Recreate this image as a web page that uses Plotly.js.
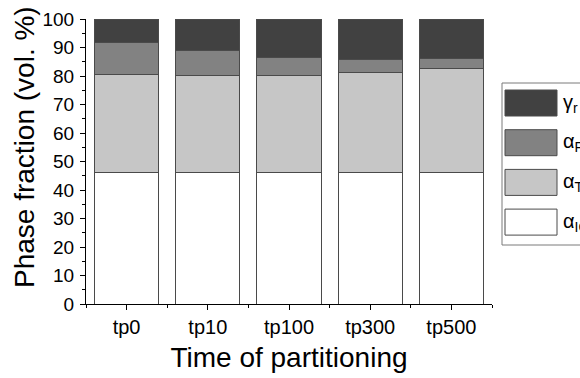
<!DOCTYPE html>
<html>
<head>
<meta charset="utf-8">
<script src="https://cdn.plot.ly/plotly-3.0.1.min.js"></script>
<style>
  html, body { margin: 0; padding: 0; background: #ffffff; }
  #chart { width: 580px; height: 378px; }
</style>
</head>
<body>
<div id="chart"></div>
<script>
// Partitioning time steps
const categories = ['tp0', 'tp10', 'tp100', 'tp300', 'tp500'];

// Phase fractions (vol. %), stacked bottom to top
const alphaIC = [46.3, 46.2, 46.2, 46.2, 46.2];
const alphaTM = [34.2, 34.0, 34.0, 35.1, 36.6];
const alphaFM = [11.2, 8.7, 6.3, 4.4, 3.3];
const gammaR  = [8.3, 11.1, 13.5, 14.3, 13.9];

const seriesNames  = ['α<sub>IC</sub>', 'α<sub>TM</sub>', 'α<sub>FM</sub>', 'γ<sub>r</sub>'];
const seriesColors = ['#ffffff', '#c6c6c6', '#828282', '#414141'];
const seriesValues = [alphaIC, alphaTM, alphaFM, gammaR];

const W = 580, H = 378;
const M = { l: 86, r: 88, t: 19, b: 74 };
const FONT = '"Liberation Sans", Arial, sans-serif';

// pixel -> paper coordinate helpers for the hand-built legend and y title
const px = x => (x - M.l) / (W - M.l - M.r);
const py = y => (H - M.b - y) / (H - M.t - M.b);

const idx = categories.map((_, i) => i);

const traces = seriesValues.map((vals, k) => ({
  type: 'bar',
  x: idx,
  y: vals,
  name: seriesNames[k],
  width: 0.79,
  marker: { color: seriesColors[k], line: { color: '#4a4a4a', width: 1 } },
  showlegend: false,
  hoverinfo: 'skip'
}));

// legend: big swatches in a framed box, top entry is the top of the stack
const shapes = [{
  type: 'rect', xref: 'paper', yref: 'paper',
  x0: px(502), x1: px(620), y0: py(83), y1: py(245),
  line: { color: '#7a7a7a', width: 1 }, fillcolor: 'rgba(0,0,0,0)', layer: 'above'
}];
const annotations = [];
const order = [3, 2, 1, 0];
order.forEach((k, j) => {
  const top = 90 + j * 39.7;
  shapes.push({
    type: 'rect', xref: 'paper', yref: 'paper',
    x0: px(505), x1: px(557), y0: py(top), y1: py(top + 26),
    fillcolor: seriesColors[k], line: { color: '#4a4a4a', width: 1 }, layer: 'above'
  });
  annotations.push({
    xref: 'paper', yref: 'paper', x: px(561), y: py(top + 13),
    xanchor: 'left', yanchor: 'middle', showarrow: false,
    text: seriesNames[k], font: { family: FONT, size: 20, color: '#000' }
  });
});

// y-axis title, placed higher than the axis centre
annotations.push({
  xref: 'paper', yref: 'paper', x: px(24), y: py(147),
  xanchor: 'center', yanchor: 'middle', showarrow: false, textangle: -90,
  text: 'Phase fraction (vol. %)', font: { family: FONT, size: 28, color: '#000' }
});

const layout = {
  width: W, height: H,
  margin: M,
  paper_bgcolor: '#ffffff', plot_bgcolor: '#ffffff',
  barmode: 'stack',
  bargap: 0,
  font: { family: FONT, color: '#000' },
  showlegend: false,
  xaxis: {
    type: 'linear',
    range: [-0.5, 4.5],
    tickvals: idx, ticktext: categories,
    ticks: 'outside', ticklen: 5, tickwidth: 1, tickcolor: '#000',
    minor: { tick0: 0.5, dtick: 1, ticks: 'outside', ticklen: 3, tickwidth: 1, tickcolor: '#000' },
    showline: true, linecolor: '#000', linewidth: 1,
    showgrid: false, zeroline: false,
    tickfont: { family: FONT, size: 20, color: '#000' },
    title: { text: 'Time of partitioning', font: { family: FONT, size: 28, color: '#000' }, standoff: 10 }
  },
  yaxis: {
    range: [0, 100],
    tickvals: [0, 10, 20, 30, 40, 50, 60, 70, 80, 90, 100],
    ticks: 'outside', ticklen: 5, tickwidth: 1, tickcolor: '#000',
    minor: { dtick: 5, ticks: 'outside', ticklen: 3, tickwidth: 1, tickcolor: '#000' },
    showline: true, linecolor: '#000', linewidth: 1,
    showgrid: false, zeroline: false,
    tickfont: { family: FONT, size: 19, color: '#000' },
    ticklabelstandoff: 2
  },
  shapes: shapes,
  annotations: annotations
};

Plotly.newPlot('chart', traces, layout, { staticPlot: true, displayModeBar: false });
</script>
</body>
</html>
